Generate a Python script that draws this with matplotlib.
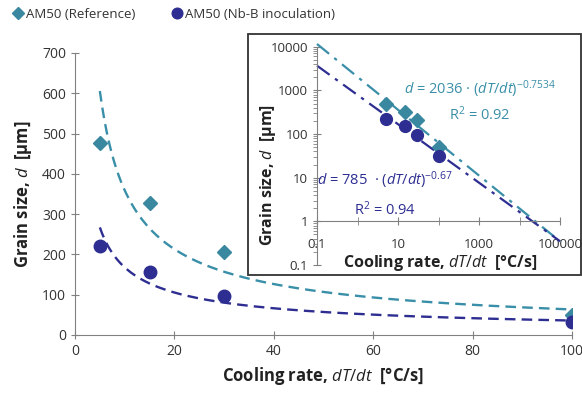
import numpy as np
import matplotlib
matplotlib.use("Agg")
import matplotlib.pyplot as plt
import matplotlib.patches as patches
from matplotlib.ticker import FixedLocator, NullFormatter, LogLocator

plt.rcParams["font.family"] = "Open Sans"
plt.rcParams["mathtext.fontset"] = "custom"
plt.rcParams["mathtext.it"] = "Open Sans:italic"
plt.rcParams["mathtext.rm"] = "Open Sans"

# data
cooling_rate = [5, 15, 30, 100]
d_reference = [477, 327, 205, 50]
d_nbb = [221, 156, 97, 32]

fit_ref = (2036, -0.7534)
fit_nbb = (785, -0.67)

TEAL = "#3A87A0"
TEAL_LINE = "#3A8FA8"
NAVY = "#2E2E92"

fig = plt.figure(figsize=(5.82, 3.99), dpi=100)
W, H = 582, 399

def rect(x0, y0, x1, y1):
    return [x0 / W, 1 - y1 / H, (x1 - x0) / W, (y1 - y0) / H]

# main axes
ax = fig.add_axes(rect(75, 53, 572, 335))
x_fit = np.linspace(5, 100, 200)
ax.plot(x_fit, fit_ref[0] * x_fit ** fit_ref[1], color=TEAL_LINE, lw=1.7, dashes=(4.5, 2.6))
ax.plot(x_fit, fit_nbb[0] * x_fit ** fit_nbb[1], color=NAVY, lw=1.7, dashes=(4.5, 2.6))
ax.plot(cooling_rate, d_reference, "D", color=TEAL, ms=7.5, ls="none", label="AM50 (Reference)")
ax.plot(cooling_rate, d_nbb, "o", color=NAVY, ms=9, ls="none", label="AM50 (Nb-B inoculation)")
ax.set_xlim(0, 100)
ax.set_ylim(0, 700)
ax.set_xticks(range(0, 101, 20))
ax.set_yticks(range(0, 701, 100))
ax.spines["top"].set_visible(False)
ax.spines["right"].set_visible(False)
for s in ["left", "bottom"]:
    ax.spines[s].set_color("#808080")
ax.tick_params(direction="inout", length=6, color="#808080", labelsize=10, labelcolor="#333333")
ax.set_xlabel(r"Cooling rate, $dT/dt$  [°C/s]", fontsize=12, fontweight="bold", color="#222222", labelpad=4)
ax.set_ylabel(r"Grain size, $d$  [µm]", fontsize=12, fontweight="bold", color="#222222", labelpad=6)
for p in ax.get_xticklabels() + ax.get_yticklabels():
    p.set_clip_on(False)

fig.legend(loc="upper left", bbox_to_anchor=(0.0, 1.01), ncol=2, frameon=False,
           fontsize=9.5, handletextpad=0.1, columnspacing=2.6, handlelength=1.0,
           markerscale=0.85, labelcolor="#333333")

# inset frame
box = patches.Rectangle((248 / W, 1 - 274.5 / H), (581 - 248) / W, (274.5 - 34) / H,
                        transform=fig.transFigure, facecolor="white", edgecolor="#333333",
                        lw=1.3, zorder=5)
fig.patches.append(box)

axi = fig.add_axes(rect(317, 46.7, 560, 265))
axi.set_zorder(6)
axi.patch.set_alpha(0)
xl = np.logspace(-1, 5, 200)
axi.plot(xl, fit_ref[0] * xl ** fit_ref[1], color=TEAL_LINE, lw=1.6, dashes=(7, 3, 1.5, 3), clip_on=False)
axi.plot(xl, fit_nbb[0] * xl ** fit_nbb[1], color=NAVY, lw=1.6, dashes=(7, 3, 1.5, 3), clip_on=False)
axi.plot(cooling_rate, d_reference, "D", color=TEAL, ms=7.5, ls="none")
axi.plot(cooling_rate, d_nbb, "o", color=NAVY, ms=8.5, ls="none")
axi.set_xscale("log")
axi.set_yscale("log")
axi.set_xlim(0.1, 100000)
axi.set_ylim(0.1, 10000)
axi.spines["top"].set_visible(False)
axi.spines["right"].set_visible(False)
axi.spines["bottom"].set_position(("data", 1))
for s in ["left", "bottom"]:
    axi.spines[s].set_color("#808080")
axi.xaxis.set_major_locator(FixedLocator([0.1, 10, 1000, 100000]))
axi.xaxis.set_minor_locator(FixedLocator([1, 100, 10000]))
axi.xaxis.set_minor_formatter(NullFormatter())
axi.set_xticklabels(["0.1", "10", "1000", "100000"])
axi.yaxis.set_major_locator(FixedLocator([0.1, 1, 10, 100, 1000, 10000]))
axi.set_yticklabels(["0.1", "1", "10", "100", "1000", "10000"])
axi.yaxis.set_minor_locator(LogLocator(base=10, subs=np.arange(2, 10)))
axi.yaxis.set_minor_formatter(NullFormatter())
axi.tick_params(which="major", direction="inout", length=6, color="#808080", labelsize=9.5, labelcolor="#333333")
axi.tick_params(which="minor", direction="out", length=3, color="#808080")
axi.tick_params(axis="x", which="minor", direction="inout", length=6)
axi.tick_params(axis="x", which="major", pad=9)
axi.set_xlabel(r"Cooling rate, $dT/dt$  [°C/s]", fontsize=11.5, fontweight="bold", color="#222222")
axi.xaxis.set_label_coords(0.506, 0.055)
axi.set_ylabel(r"Grain size, $d$  [µm]", fontsize=11.5, fontweight="bold", color="#222222")
axi.yaxis.set_label_coords(-0.16, 0.41)
for p in axi.get_xticklabels() + axi.get_yticklabels():
    p.set_clip_on(False)

axi.text(0.67, 0.804, r"$d$ = 2036 · ($dT/dt$)$^{-0.7534}$", transform=axi.transAxes,
         color=TEAL_LINE, fontsize=10.5, ha="center", va="center")
axi.text(0.67, 0.69, r"R$^2$ = 0.92", transform=axi.transAxes,
         color=TEAL_LINE, fontsize=10.5, ha="center", va="center")
axi.text(0.28, 0.387, r"$d$ = 785  · ($dT/dt$)$^{-0.67}$", transform=axi.transAxes,
         color=NAVY, fontsize=10.5, ha="center", va="center")
axi.text(0.28, 0.255, r"R$^2$ = 0.94", transform=axi.transAxes,
         color=NAVY, fontsize=10.5, ha="center", va="center")

fig.savefig("out.png", dpi=100)
